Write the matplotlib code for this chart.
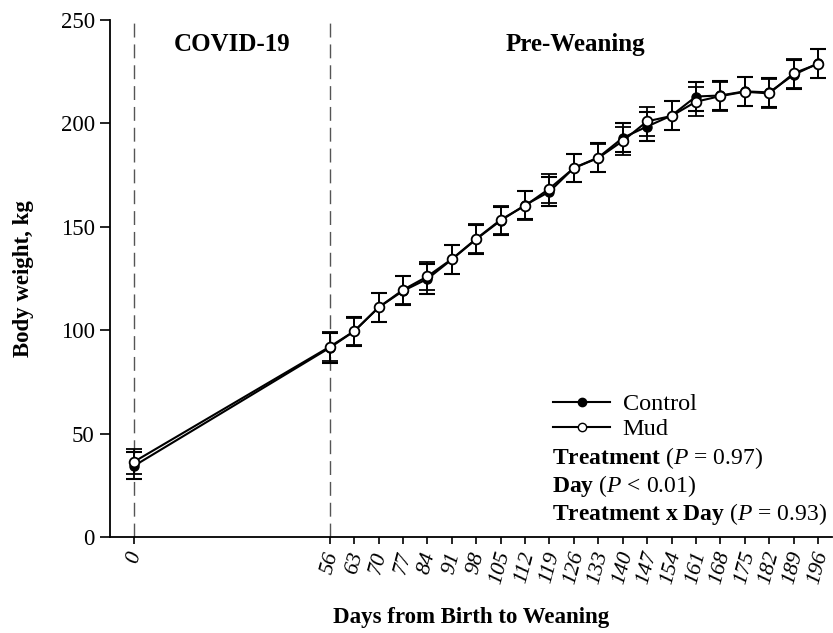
import matplotlib
matplotlib.use("Agg")
import matplotlib.pyplot as plt
from matplotlib.lines import Line2D

plt.rcParams['font.family'] = ['Liberation Serif', 'DejaVu Serif']
plt.rcParams['mathtext.fontset'] = 'custom'
plt.rcParams['mathtext.rm'] = 'Liberation Serif'
plt.rcParams['mathtext.it'] = 'Liberation Serif:italic'
plt.rcParams['mathtext.bf'] = 'Liberation Serif:bold'

days = [0, 56, 63, 70, 77, 84, 91, 98, 105, 112, 119, 126, 133, 140, 147, 154, 161, 168, 175, 182, 189, 196]
control = [34.5, 91.5, 99.5, 111.0, 119.0, 124.8, 134.2, 144.0, 153.0, 160.5, 167.0, 178.5, 183.5, 193.0, 198.5, 203.8, 213.0, 213.5, 215.5, 215.0, 223.5, 229.0]
mud = [36.5, 92.0, 99.5, 111.0, 119.5, 126.0, 134.4, 144.2, 153.4, 160.2, 168.5, 178.4, 183.3, 191.5, 201.0, 203.6, 210.5, 213.2, 215.3, 214.5, 224.2, 228.8]
control_se = [6.5, 7.2, 7.0, 6.8, 7.0, 7.2, 7.0, 7.0, 6.8, 6.8, 7.0, 6.8, 6.8, 7.0, 7.0, 7.0, 6.8, 7.0, 7.0, 7.0, 7.0, 7.0]
mud_se = [6.0, 7.0, 6.5, 7.0, 6.8, 6.8, 7.0, 7.0, 6.8, 7.0, 7.0, 6.8, 6.8, 6.8, 7.0, 7.0, 7.0, 7.0, 7.0, 7.0, 7.0, 7.0]
period_lines = [0, 56]
period_labels = ["COVID-19", "Pre-Weaning"]
period_label_x = [28, 126.5]

fig = plt.figure(figsize=(8.33, 6.33), dpi=100)
ax = fig.add_axes([110/833, 96/633, 722/833, 517/633])

for d in period_lines:
    ax.axvline(d, color='#555555', lw=1.0, ls=(0, (10, 5)), zorder=1)

ax.errorbar(days, control, yerr=control_se, color='black', lw=1.5, marker='o',
            ms=6.5, mfc='black', mec='black', capsize=5.5, capthick=1.5, elinewidth=1.3, zorder=3)
ax.errorbar(days, mud, yerr=mud_se, color='black', lw=1.5, marker='o',
            ms=7, mfc='white', mec='black', mew=1.3, capsize=5.5, capthick=1.5, elinewidth=1.3, zorder=4)

for lbl, x in zip(period_labels, period_label_x):
    ax.text(x, 238, lbl, ha='center', va='center', fontsize=18, fontweight='bold')

ax.set_xlim(-7, 200)
ax.set_ylim(0, 250)
ax.set_yticks([0, 50, 100, 150, 200, 250])
ax.set_xticks(days)
ax.set_xticklabels([str(d) for d in days], rotation=75, style='italic', fontsize=16)
ax.tick_params(axis='y', labelsize=16.5, length=7, width=1.2, direction='out', pad=4)
ax.tick_params(axis='x', length=5, width=1.2, direction='out', pad=4)
for s in ['top', 'right']:
    ax.spines[s].set_visible(False)
for s in ['left', 'bottom']:
    ax.spines[s].set_linewidth(1.3)

ax.set_ylabel('Body weight, kg', fontsize=16.5, fontweight='bold', labelpad=19)
ax.set_xlabel('Days from Birth to Weaning', fontsize=16.5, fontweight='bold', labelpad=15)

handles = [Line2D([0], [0], color='black', lw=1.5, marker='o', ms=6, mfc='black', mec='black'),
           Line2D([0], [0], color='black', lw=1.5, marker='o', ms=6, mfc='white', mec='black')]
leg = ax.legend(handles, ['Control', 'Mud'], loc='center left', bbox_to_anchor=(0.614, 0.233),
                frameon=False, fontsize=17.5, handlelength=2.35, handletextpad=0.5,
                labelspacing=0.12, borderaxespad=0, borderpad=0)

stats = [r'$\mathbf{Treatment}$ ($\mathit{P}$ = 0.97)',
         r'$\mathbf{Day}$ ($\mathit{P}$ < 0.01)',
         r'$\mathbf{Treatment\ x\ Day}$ ($\mathit{P}$ = 0.93)']
stats_y = [0.153, 0.099, 0.044]
for s, y in zip(stats, stats_y):
    ax.text(0.612, y, s, transform=ax.transAxes, fontsize=17, ha='left', va='center')

fig.savefig('out.png', dpi=100)
